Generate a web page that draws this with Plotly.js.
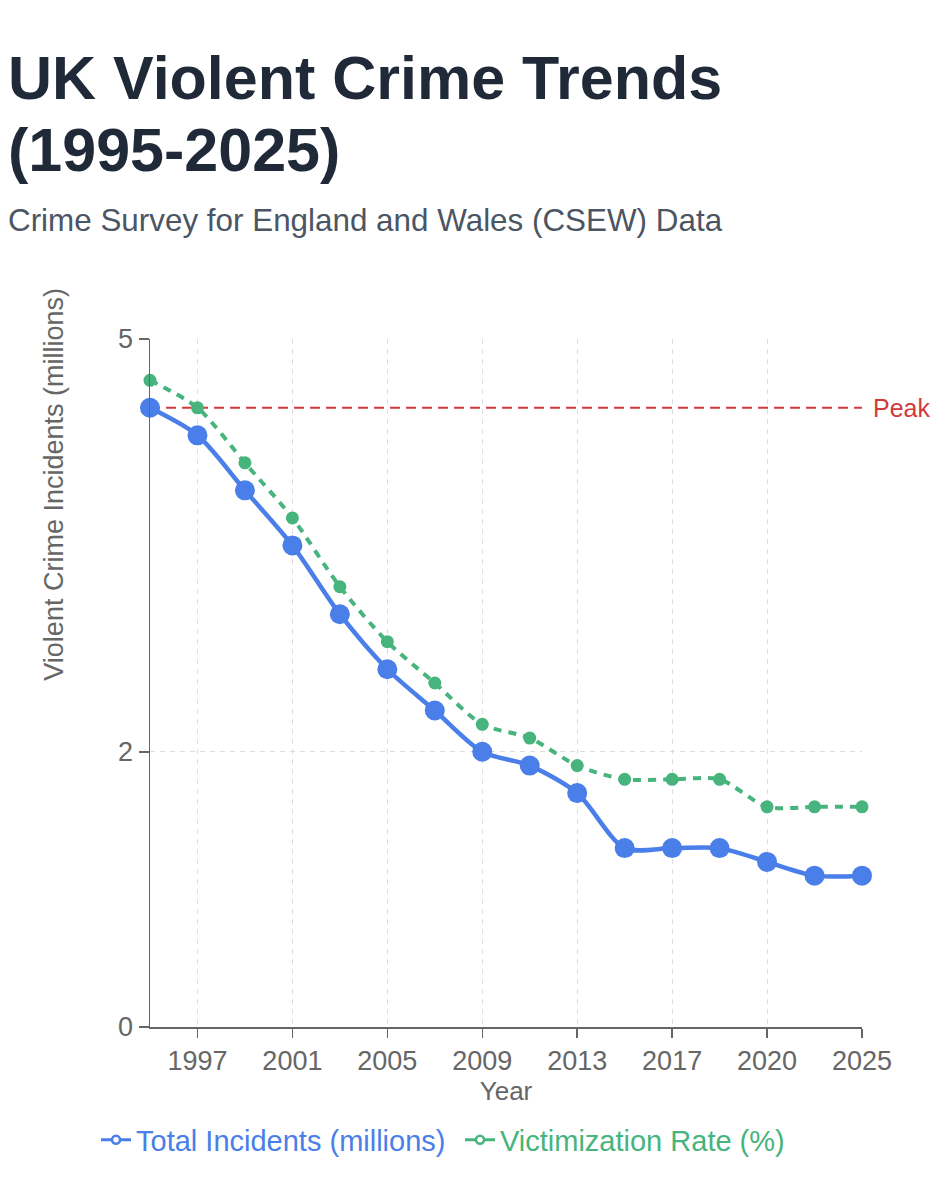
<!DOCTYPE html>
<html>
<head>
<meta charset="utf-8">
<script src="https://cdn.plot.ly/plotly-3.0.1.min.js"></script>
<style>
  html, body { margin: 0; padding: 0; background: #ffffff; }
  body { width: 934px; height: 1200px; position: relative; overflow: hidden; }
  .title {
    position: absolute; left: 8px; top: 42px; margin: 0;
    font-family: "Liberation Sans", Arial, sans-serif; font-weight: bold;
    font-size: 61px; line-height: 72px; color: #1f2937;
  }
  .subtitle {
    position: absolute; left: 8px; top: 203px; margin: 0;
    font-family: "Liberation Sans", Arial, sans-serif;
    font-size: 31.4px; line-height: 36px; color: #4b5563;
  }
  #chart {
    position: absolute; left: 0; top: 250px; width: 934px; height: 950px;
  }
</style>
</head>
<body>
<h1 class="title">UK Violent Crime Trends<br>(1995-2025)</h1>
<p class="subtitle">Crime Survey for England and Wales (CSEW) Data</p>
<div id="chart"></div>
<script>
// Survey years (category axis)
const years = ['1995', '1997', '1999', '2001', '2003', '2005', '2007', '2009',
               '2011', '2013', '2015', '2017', '2019', '2020', '2023', '2025'];
// Total violent incidents, millions
const incidents = [4.5, 4.3, 3.9, 3.5, 3.0, 2.6, 2.3, 2.0, 1.9, 1.7, 1.3, 1.3, 1.3, 1.2, 1.1, 1.1];
// Victimization rate, %
const victimRate = [4.7, 4.5, 4.1, 3.7, 3.2, 2.8, 2.5, 2.2, 2.1, 1.9, 1.8, 1.8, 1.8, 1.6, 1.6, 1.6];
// Labelled ticks
const yearTicks = ['1997', '2001', '2005', '2009', '2013', '2017', '2020', '2025'];
const valueTicks = [0, 2, 5];

const BLUE = '#4a7ee8';
const GREEN = '#48b47d';
const RED = '#d03a3a';
const FONT = '"Liberation Sans", Arial, sans-serif';
const peak = Math.max(...incidents);

const traces = [
  {
    x: years, y: victimRate, type: 'scatter', mode: 'lines+markers',
    line: { color: GREEN, width: 4, dash: '8px,7px', shape: 'spline', smoothing: 0.8 },
    marker: { color: GREEN, size: 13 },
    cliponaxis: false, showlegend: false, hoverinfo: 'skip'
  },
  {
    x: years, y: incidents, type: 'scatter', mode: 'lines+markers',
    line: { color: BLUE, width: 4.5, shape: 'spline', smoothing: 0.8 },
    marker: { color: BLUE, size: 20 },
    cliponaxis: false, showlegend: false, hoverinfo: 'skip'
  },
  // legend entries (hollow point style), one legend box each
  {
    x: [null], y: [null], type: 'scatter', mode: 'lines+markers', legend: 'legend',
    name: '<span style="color:' + BLUE + '">Total Incidents (millions)</span>',
    line: { color: BLUE, width: 3 },
    marker: { color: '#ffffff', size: 8, line: { color: BLUE, width: 2.5 } }
  },
  {
    x: [null], y: [null], type: 'scatter', mode: 'lines+markers', legend: 'legend2',
    name: '<span style="color:' + GREEN + '">Victimization Rate (%)</span>',
    line: { color: GREEN, width: 3 },
    marker: { color: '#ffffff', size: 8, line: { color: GREEN, width: 2.5 } }
  }
];

const legendBase = {
  orientation: 'h', xref: 'paper', yref: 'paper', xanchor: 'left',
  y: -0.164, yanchor: 'middle',
  font: { family: FONT, size: 29 }, bgcolor: 'rgba(0,0,0,0)'
};

const layout = {
  width: 934, height: 950,
  margin: { l: 150, r: 72, t: 89, b: 173 },
  paper_bgcolor: 'rgba(0,0,0,0)', plot_bgcolor: '#ffffff',
  font: { family: FONT, size: 27, color: '#666666' },
  xaxis: {
    type: 'category', categoryorder: 'array', categoryarray: years,
    range: [0, years.length - 1],
    tickvals: yearTicks, ticktext: yearTicks,
    showline: true, linecolor: '#666666', linewidth: 1.5,
    ticks: 'outside', ticklen: 9, tickcolor: '#666666', tickwidth: 1.5,
    showgrid: true, gridcolor: '#dddddd', gridwidth: 1, griddash: '5px,5px',
    zeroline: false,
    tickfont: { family: FONT, size: 27, color: '#666666' },
    title: { text: 'Year', font: { family: FONT, size: 26, color: '#666666' }, standoff: 6 }
  },
  yaxis: {
    range: [0, 5],
    tickvals: valueTicks, ticktext: valueTicks.map(String),
    showline: true, linecolor: '#666666', linewidth: 1.5,
    ticks: 'outside', ticklen: 10, tickcolor: '#666666', tickwidth: 1.5,
    showgrid: true, gridcolor: '#dddddd', gridwidth: 1, griddash: '5px,5px',
    zeroline: false,
    tickfont: { family: FONT, size: 27, color: '#666666' }
  },
  shapes: [
    {
      type: 'line', xref: 'paper', x0: 0, x1: 1, yref: 'y', y0: peak, y1: peak,
      line: { color: RED, width: 2, dash: '10px,6px' }, layer: 'between'
    }
  ],
  annotations: [
    {
      text: 'Peak', xref: 'paper', x: 1.012, xanchor: 'left',
      yref: 'y', y: peak, yanchor: 'middle', showarrow: false,
      font: { family: FONT, size: 25, color: RED }
    },
    {
      text: 'Violent Crime Incidents (millions)', textangle: -90,
      xref: 'paper', x: -0.136, xanchor: 'center',
      yref: 'paper', y: 0.5, yanchor: 'bottom', showarrow: false,
      font: { family: FONT, size: 27, color: '#666666' }
    }
  ],
  showlegend: true,
  legend: Object.assign({}, legendBase, { x: -0.0758 }),
  legend2: Object.assign({}, legendBase, { x: 0.4354 })
};

Plotly.newPlot('chart', traces, layout, { displayModeBar: false, staticPlot: true });
</script>
</body>
</html>
